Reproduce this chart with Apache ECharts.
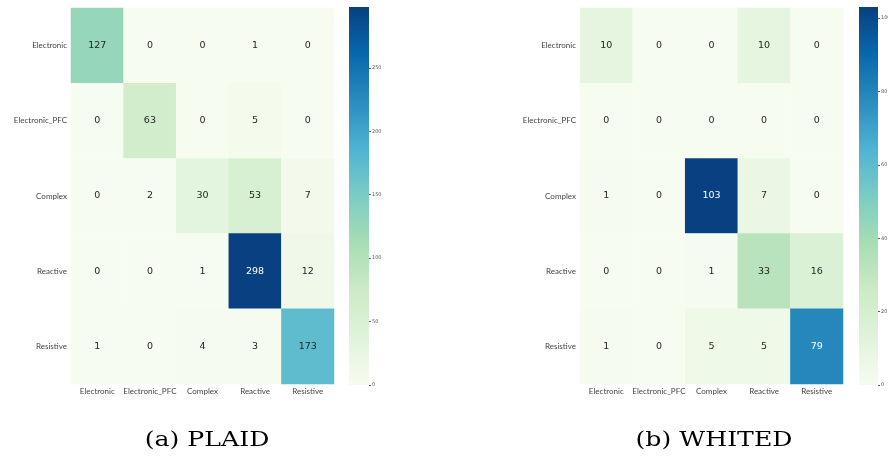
<!DOCTYPE html>
<html>
<head>
<meta charset="utf-8">
<script src="https://cdn.jsdelivr.net/npm/echarts@6/dist/echarts.min.js"></script>
<style>
  html, body { margin: 0; padding: 0; background: #fff; }
  #chart { width: 888px; height: 463px; }
</style>
</head>
<body>
<div id="chart"></div>
<script>
// Class labels (rows = true class, columns = predicted class)
const classes = ['Electronic', 'Electronic_PFC', 'Complex', 'Reactive', 'Resistive'];

// Confusion matrix, PLAID dataset
const plaidMatrix = [
  [127, 0, 0, 1, 0],
  [0, 63, 0, 5, 0],
  [0, 2, 30, 53, 7],
  [0, 0, 1, 298, 12],
  [1, 0, 4, 3, 173]
];

// Confusion matrix, WHITED dataset
const whitedMatrix = [
  [10, 0, 0, 10, 0],
  [0, 0, 0, 0, 0],
  [1, 0, 103, 7, 0],
  [0, 0, 1, 33, 16],
  [1, 0, 5, 5, 79]
];

// Panel captions
const captions = ['(a) PLAID', '(b) WHITED'];

// Colour bar ranges and tick values
const plaidMax = 298;
const plaidTicks = [0, 50, 100, 150, 200, 250];
const whitedMax = 103;
const whitedTicks = [0, 20, 40, 60, 80, 100];

// GnBu colour ramp
const gnbu = ['#f7fcf0', '#e0f3db', '#ccebc5', '#a8ddb5', '#7bccc4', '#4eb3d3', '#2b8cbe', '#0868ac', '#084081'];

function cells(matrix, vmax) {
  const out = [];
  matrix.forEach((row, r) => {
    row.forEach((v, c) => {
      const dark = v / vmax > 0.65;
      out.push({ value: [c, r, v], label: { color: dark ? '#ffffff' : '#262626' } });
    });
  });
  return out;
}

const labelFont = 'Lato, "Open Sans", sans-serif';

function catAxisX(gi) {
  return {
    type: 'category', gridIndex: gi, data: classes, position: 'bottom',
    axisLine: { show: false }, axisTick: { show: false }, splitArea: { show: false },
    axisLabel: { fontSize: 8, color: '#444', fontFamily: labelFont, margin: 3, interval: 0 }
  };
}
function catAxisY(gi) {
  return {
    type: 'category', gridIndex: gi, data: classes, inverse: true,
    axisLine: { show: false }, axisTick: { show: false }, splitArea: { show: false },
    axisLabel: { fontSize: 8, color: '#444', fontFamily: labelFont, margin: 4, interval: 0 }
  };
}
// Colour-bar scale: axis sits on the bar's right edge, ticks and labels point outwards
function barAxisY(gi, vmax, ticks) {
  return {
    type: 'value', gridIndex: gi, min: 0, max: vmax, position: 'left',
    axisLine: { show: false }, splitLine: { show: false },
    axisTick: { show: true, inside: true, length: 2, customValues: ticks, lineStyle: { color: '#333', width: 0.8 } },
    axisLabel: { inside: true, fontSize: 5, color: '#555', margin: 3, fontFamily: 'DejaVu Sans', customValues: ticks }
  };
}
function hiddenX(gi) {
  return { type: 'value', gridIndex: gi, show: false, min: 0, max: 1 };
}

// Vertical gradient for a colour bar, low values at the bottom
function rampFill() {
  const stops = gnbu.map((c, i) => ({ offset: i / (gnbu.length - 1), color: c }));
  return new echarts.graphic.LinearGradient(0, 1, 0, 0, stops);
}

const chart = echarts.init(document.getElementById('chart'), null, { renderer: 'canvas' });

const bars = [
  { x: 349, y: 7, width: 20, height: 378 },
  { x: 859, y: 7, width: 19, height: 378 }
];

function caption(text, cx) {
  return {
    type: 'text', x: cx, y: 441, scaleX: 1.26,
    style: { text: text, font: '20px "DejaVu Serif", serif', fill: '#000', textAlign: 'center', textVerticalAlign: 'middle' }
  };
}

chart.setOption({
  animation: false,
  backgroundColor: '#ffffff',
  grid: [
    { left: 71, top: 8, width: 263, height: 376 },
    { left: 580, top: 8, width: 263, height: 376 },
    { left: bars[0].x + bars[0].width, top: bars[0].y, width: 8, height: bars[0].height },
    { left: bars[1].x + bars[1].width, top: bars[1].y, width: 8, height: bars[1].height }
  ],
  xAxis: [catAxisX(0), catAxisX(1), hiddenX(2), hiddenX(3)],
  yAxis: [catAxisY(0), catAxisY(1), barAxisY(2, plaidMax, plaidTicks), barAxisY(3, whitedMax, whitedTicks)],
  visualMap: [
    { type: 'continuous', show: false, seriesIndex: 0, dimension: 2, min: 0, max: plaidMax, inRange: { color: gnbu } },
    { type: 'continuous', show: false, seriesIndex: 1, dimension: 2, min: 0, max: whitedMax, inRange: { color: gnbu } }
  ],
  series: [
    {
      type: 'heatmap', xAxisIndex: 0, yAxisIndex: 0,
      data: cells(plaidMatrix, plaidMax),
      label: { show: true, fontSize: 9.5, fontFamily: 'DejaVu Sans' },
      itemStyle: { borderWidth: 0 },
      emphasis: { disabled: true }
    },
    {
      type: 'heatmap', xAxisIndex: 1, yAxisIndex: 1,
      data: cells(whitedMatrix, whitedMax),
      label: { show: true, fontSize: 9.5, fontFamily: 'DejaVu Sans' },
      itemStyle: { borderWidth: 0 },
      emphasis: { disabled: true }
    }
  ],
  graphic: [
    {
      type: 'rect', silent: true, z: -10,
      shape: { x: bars[0].x, y: bars[0].y, width: bars[0].width, height: bars[0].height },
      style: { fill: rampFill() }
    },
    {
      type: 'rect', silent: true, z: -10,
      shape: { x: bars[1].x, y: bars[1].y, width: bars[1].width, height: bars[1].height },
      style: { fill: rampFill() }
    },
    caption(captions[0], 207),
    caption(captions[1], 714)
  ]
});
</script>
</body>
</html>
